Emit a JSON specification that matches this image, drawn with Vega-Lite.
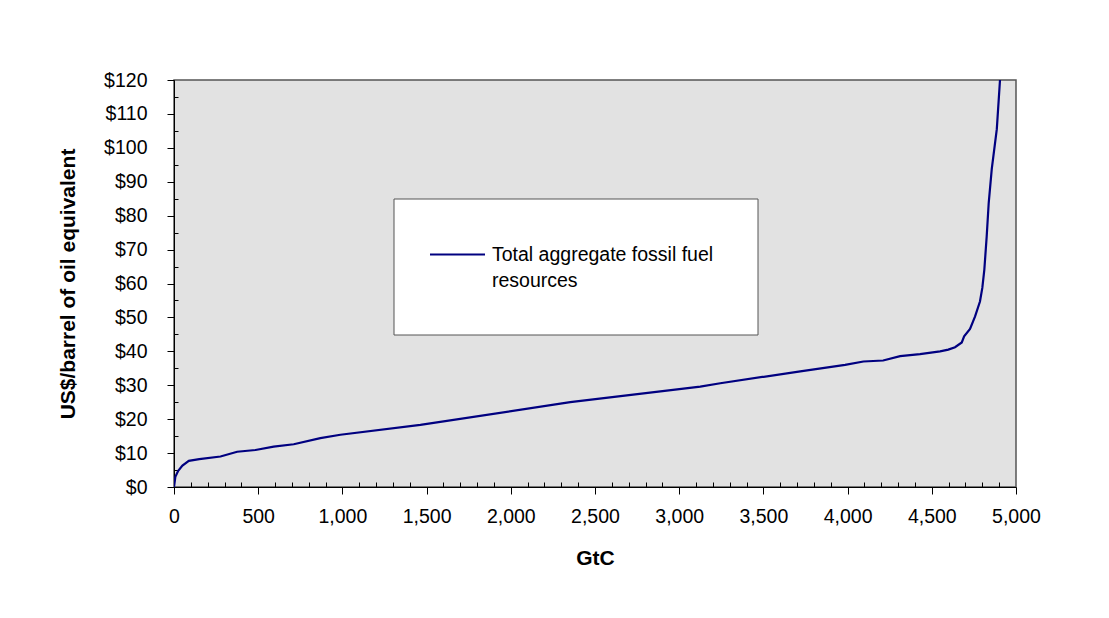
{
  "$schema": "https://vega.github.io/schema/vega-lite/v6.json",
  "autosize": {"type": "none"},
  "width": 842,
  "height": 407,
  "padding": {"left": 174, "top": 80, "right": 93, "bottom": 131},
  "background": "white",
  "config": {
    "view": {"fill": "#e2e2e2", "stroke": "#555555", "strokeWidth": 1.5},
    "axis": {"domainColor": "black", "tickColor": "black", "labelColor": "black", "titleColor": "black", "labelFont": "Liberation Sans", "titleFont": "Liberation Sans", "grid": false}
  },
  "data": {"values": [
    {"gtc": 0, "price": 0, "series": "Total aggregate fossil fuel resources"},
    {"gtc": 8, "price": 3.0, "series": "Total aggregate fossil fuel resources"},
    {"gtc": 25, "price": 4.8, "series": "Total aggregate fossil fuel resources"},
    {"gtc": 50, "price": 6.3, "series": "Total aggregate fossil fuel resources"},
    {"gtc": 88, "price": 7.7, "series": "Total aggregate fossil fuel resources"},
    {"gtc": 150, "price": 8.2, "series": "Total aggregate fossil fuel resources"},
    {"gtc": 276, "price": 9.0, "series": "Total aggregate fossil fuel resources"},
    {"gtc": 375, "price": 10.4, "series": "Total aggregate fossil fuel resources"},
    {"gtc": 484, "price": 10.9, "series": "Total aggregate fossil fuel resources"},
    {"gtc": 592, "price": 11.9, "series": "Total aggregate fossil fuel resources"},
    {"gtc": 711, "price": 12.6, "series": "Total aggregate fossil fuel resources"},
    {"gtc": 869, "price": 14.4, "series": "Total aggregate fossil fuel resources"},
    {"gtc": 988, "price": 15.4, "series": "Total aggregate fossil fuel resources"},
    {"gtc": 1463, "price": 18.3, "series": "Total aggregate fossil fuel resources"},
    {"gtc": 2353, "price": 25.0, "series": "Total aggregate fossil fuel resources"},
    {"gtc": 3125, "price": 29.6, "series": "Total aggregate fossil fuel resources"},
    {"gtc": 3244, "price": 30.6, "series": "Total aggregate fossil fuel resources"},
    {"gtc": 3719, "price": 34.1, "series": "Total aggregate fossil fuel resources"},
    {"gtc": 3985, "price": 36.0, "series": "Total aggregate fossil fuel resources"},
    {"gtc": 4094, "price": 37.0, "series": "Total aggregate fossil fuel resources"},
    {"gtc": 4211, "price": 37.3, "series": "Total aggregate fossil fuel resources"},
    {"gtc": 4312, "price": 38.6, "series": "Total aggregate fossil fuel resources"},
    {"gtc": 4430, "price": 39.2, "series": "Total aggregate fossil fuel resources"},
    {"gtc": 4549, "price": 40.0, "series": "Total aggregate fossil fuel resources"},
    {"gtc": 4598, "price": 40.5, "series": "Total aggregate fossil fuel resources"},
    {"gtc": 4638, "price": 41.2, "series": "Total aggregate fossil fuel resources"},
    {"gtc": 4678, "price": 42.6, "series": "Total aggregate fossil fuel resources"},
    {"gtc": 4692, "price": 44.4, "series": "Total aggregate fossil fuel resources"},
    {"gtc": 4727, "price": 46.6, "series": "Total aggregate fossil fuel resources"},
    {"gtc": 4757, "price": 50.3, "series": "Total aggregate fossil fuel resources"},
    {"gtc": 4786, "price": 54.7, "series": "Total aggregate fossil fuel resources"},
    {"gtc": 4800, "price": 58.7, "series": "Total aggregate fossil fuel resources"},
    {"gtc": 4812, "price": 64.1, "series": "Total aggregate fossil fuel resources"},
    {"gtc": 4826, "price": 73.9, "series": "Total aggregate fossil fuel resources"},
    {"gtc": 4838, "price": 83.8, "series": "Total aggregate fossil fuel resources"},
    {"gtc": 4856, "price": 93.7, "series": "Total aggregate fossil fuel resources"},
    {"gtc": 4886, "price": 105.5, "series": "Total aggregate fossil fuel resources"},
    {"gtc": 4905, "price": 120, "series": "Total aggregate fossil fuel resources"}
  ]},
  "resolve": {"axis": {"x": "independent", "y": "independent"}},
  "layer": [
    {
      "mark": {"type": "line", "opacity": 0},
      "encoding": {
        "x": {"field": "gtc", "type": "quantitative", "scale": {"domain": [0, 5000], "nice": false},
              "axis": {"orient": "bottom", "values": [100,200,300,400,600,700,800,900,1100,1200,1300,1400,1600,1700,1800,1900,2100,2200,2300,2400,2600,2700,2800,2900,3100,3200,3300,3400,3600,3700,3800,3900,4100,4200,4300,4400,4600,4700,4800,4900], "labels": false, "domain": false, "tickSize": -5, "tickWidth": 1, "title": null}},
        "y": {"field": "price", "type": "quantitative", "scale": {"domain": [0, 120], "nice": false},
              "axis": {"orient": "left", "values": [5,15,25,35,45,55,65,75,85,95,105,115], "labels": false, "domain": false, "tickSize": -4, "tickWidth": 1, "title": null}}
      }
    },
    {
      "mark": {"type": "line", "strokeWidth": 2.2, "clip": true},
      "encoding": {
        "x": {"field": "gtc", "type": "quantitative",
              "axis": {"orient": "bottom", "values": [0,500,1000,1500,2000,2500,3000,3500,4000,4500,5000], "format": ",d", "labelFlush": false, "tickSize": 7, "labelPadding": 13, "labelFontSize": 19.5, "domainWidth": 1, "title": "GtC", "titleFontSize": 21, "titleFontWeight": "bold", "titlePadding": 22}},
        "y": {"field": "price", "type": "quantitative",
              "axis": {"orient": "left", "values": [0,10,20,30,40,50,60,70,80,90,100,110,120], "format": "$.0f", "labelFlush": false, "tickSize": 7, "labelPadding": 20, "labelFontSize": 19.5, "domainWidth": 1, "title": "US$/barrel of oil  equivalent", "titleFontSize": 21, "titleFontWeight": "bold", "titlePadding": 25}},
        "color": {"field": "series", "type": "nominal", "scale": {"range": ["#000080"]},
                  "legend": {"orient": "none", "legendX": 219.5, "legendY": 118.5, "padding": 44, "fillColor": "white", "strokeColor": "#555555", "title": null,
                             "symbolType": "M-2.5,0H2.5", "symbolSize": 484, "symbolStrokeWidth": 2, "symbolOffset": 8, "labelFont": "Liberation Sans", "labelFontSize": 19.5, "labelColor": "black", "labelOffset": 22.5, "labelLimit": 500,
                             "labelExpr": "['Total aggregate fossil fuel', 'resources']",
                             "encode": {"labels": {"update": {"lineHeight": {"value": 26}}}}}}
      }
    }
  ]
}
